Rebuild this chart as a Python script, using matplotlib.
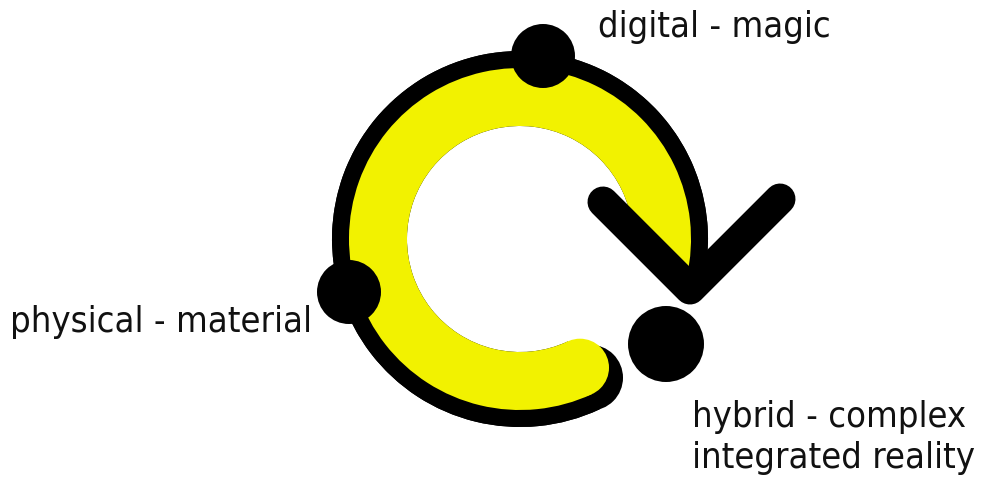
import matplotlib
matplotlib.use("Agg")
import matplotlib.pyplot as plt
from matplotlib.patches import Wedge, Circle, Polygon
from matplotlib.lines import Line2D
import numpy as np

# ---- content ----
labels = ["digital - magic", "physical - material", "hybrid - complex\nintegrated reality"]

W, H = 986, 481
BLACK = "#000000"
YELLOW = "#f2f200"

def P(x, y):
    """pixel (top-left origin) -> data (y up)"""
    return (x, H - y)

fig = plt.figure(figsize=(W / 100, H / 100), dpi=100)
ax = fig.add_axes([0, 0, 1, 1])
ax.set_xlim(0, W)
ax.set_ylim(0, H)
ax.axis("off")

cx, cy = P(520, 240)
r_in, r_yel, r_out = 113, 171, 188
a_end_bottom = 295      # bottom-right end (deg, y-up, ccw)
a_black_right = -17     # black outline end near arrow tip
a_yel_right = -13

# black outline band near right end
ax.add_patch(Wedge((cx, cy), r_out, a_black_right, a_end_bottom, width=r_out - r_yel,
                   color=BLACK, lw=0))
# black ring behind yellow
ax.add_patch(Wedge((cx, cy), r_out, a_yel_right, a_end_bottom, width=r_out - r_in,
                   color=BLACK, lw=0))
# shadow cap at bottom-right end
rm = (r_in + r_yel) / 2
ex = cx + rm * np.cos(np.radians(a_end_bottom))
ey = cy + rm * np.sin(np.radians(a_end_bottom))
ax.add_patch(Circle((ex + 10, ey - 10), 33, color=BLACK, lw=0))
# yellow ring
ax.add_patch(Wedge((cx, cy), r_yel, a_yel_right, a_end_bottom, width=r_yel - r_in,
                   color=YELLOW, lw=0))
ax.add_patch(Circle((ex, ey), (r_yel - r_in) / 2, color=YELLOW, lw=0))
# yellow ends under the arrow arm: blank the part below the arm
ax.add_patch(Polygon([P(598, 198), P(684, 284), P(645, 302), P(600, 285)],
                     closed=True, color="white", lw=0))

# arrow head (chevron)
xs, ys = zip(P(603, 203), P(690, 290), P(780, 200))
ax.add_line(Line2D(xs, ys, color=BLACK, lw=31 * 0.72,
                   solid_capstyle="round", solid_joinstyle="round"))

# dots
for (px, py, r) in [(543, 57, 32), (349, 293, 32), (666, 345, 38)]:
    ax.add_patch(Circle(P(px, py), r, color=BLACK, lw=0))

# labels
fs = 26
kw = dict(fontsize=fs, family="DejaVu Sans", fontstretch="condensed",
          ha="left", va="baseline", color="#111111")
ax.text(*P(598, 37), labels[0], **kw)
ax.text(*P(10, 332), labels[1], **kw)
ax.text(*P(692, 427), labels[2].split("\n")[0], **kw)
ax.text(*P(692, 468), labels[2].split("\n")[1], **kw)

fig.savefig("out.png", dpi=100)
